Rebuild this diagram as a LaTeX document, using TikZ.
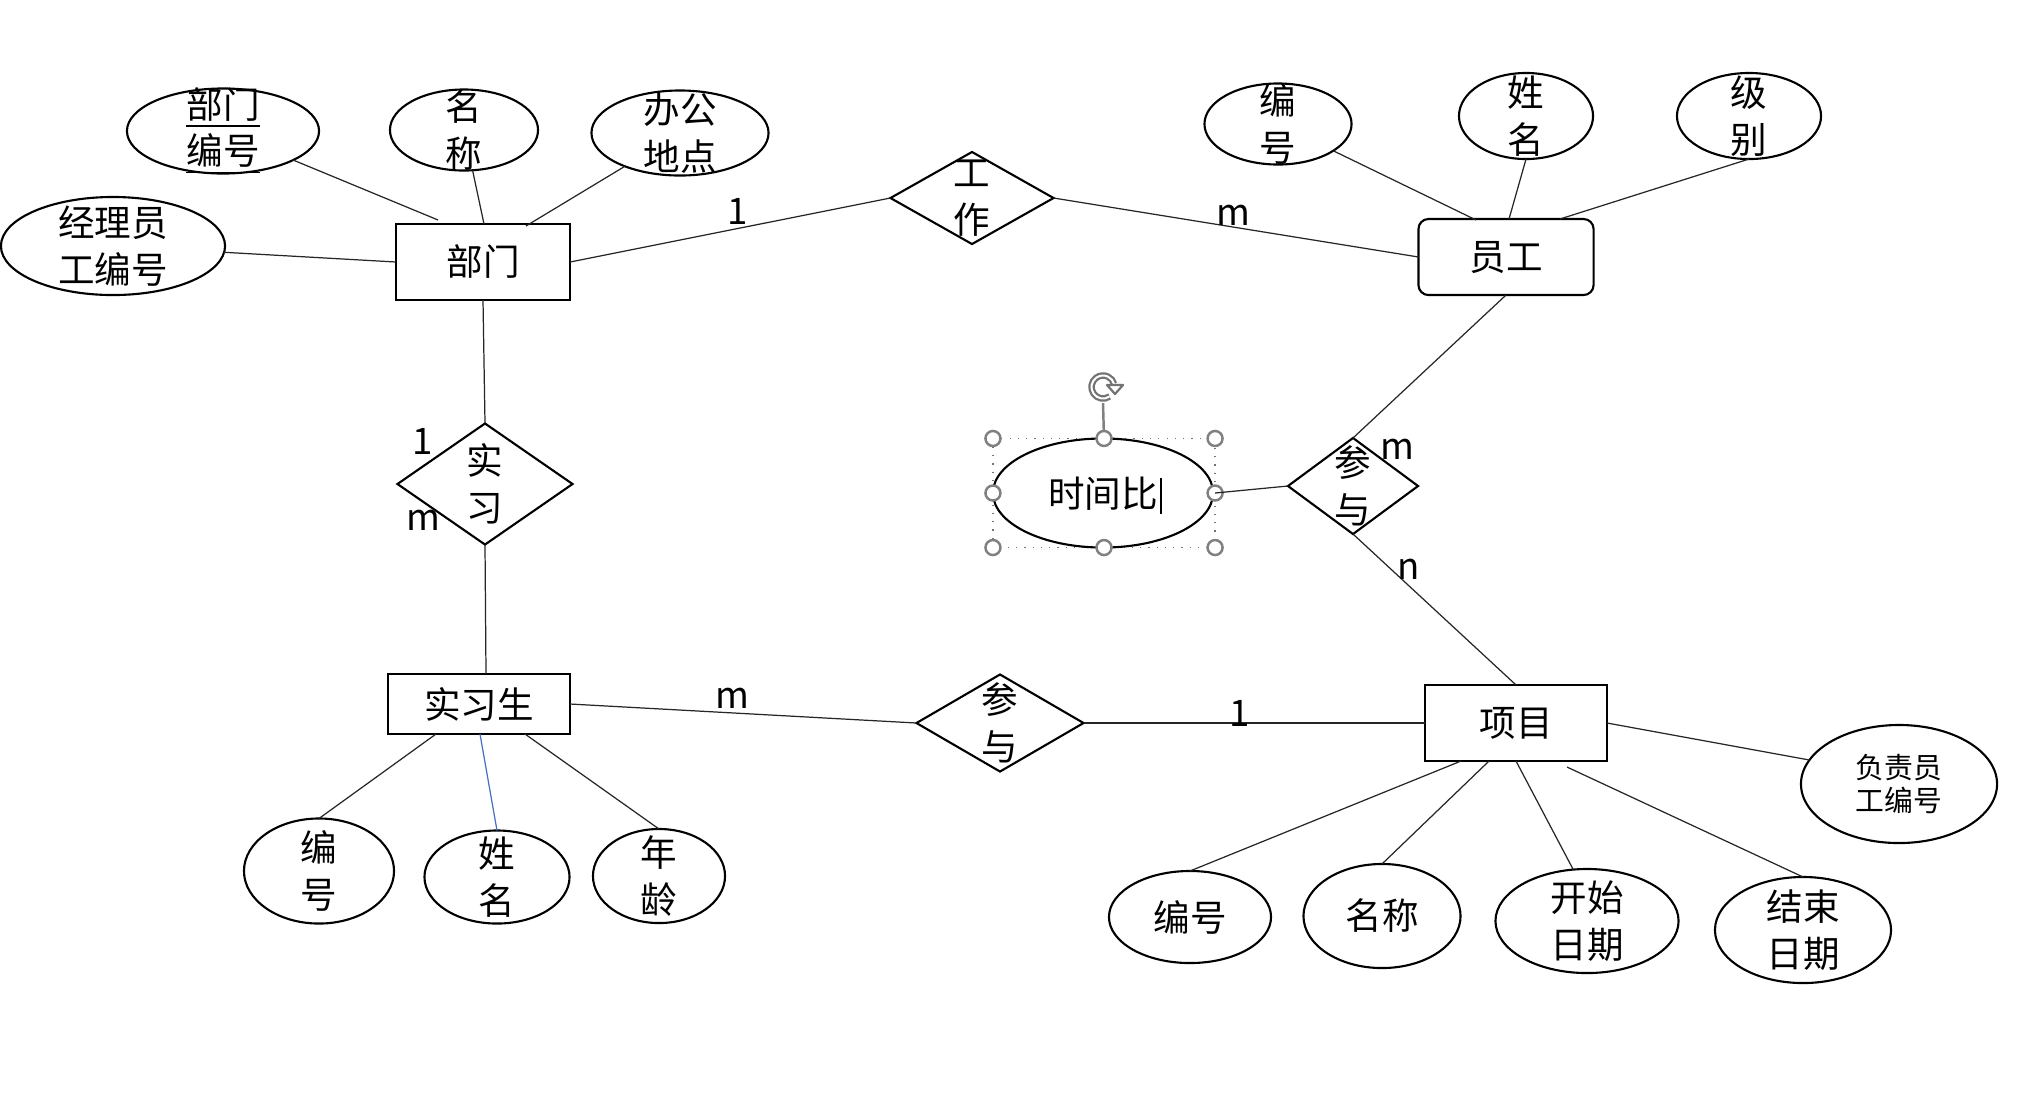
\documentclass[tikz,border=0pt]{standalone}
\usepackage{fontspec}
\newfontfamily\cjk{Noto Sans CJK SC}
\usetikzlibrary{shapes.geometric,calc,arrows.meta}
\begin{document}
\begin{tikzpicture}[x=0.01cm,y=-0.01cm,
  every node/.style={inner sep=0pt, outer sep=0pt},
  lab/.style={font=\cjk\fontsize{10.4}{13.2}\selectfont, align=center, inner sep=0pt},
  smalllab/.style={font=\cjk\fontsize{8.2}{9.6}\selectfont, align=center, inner sep=0pt},
  ent/.style={draw, rectangle, line width=0.6pt, lab},
  attr/.style={draw, ellipse, line width=0.6pt},
  rel/.style={draw, diamond, line width=0.6pt},
  conn/.style={line width=0.35pt, black!85},
  card/.style={font=\cjk\fontsize{10.4}{12}\selectfont, inner sep=0pt},
  handle/.style={circle, draw=black!50, line width=0.7pt, fill=white, minimum size=0.15cm},
  selline/.style={draw=black!55, dotted, line width=0.35pt}
]
\useasboundingbox (0,0) rectangle (2022,1093);

% ---------- entities ----------
\node[ent, minimum width=1.74cm, minimum height=0.76cm] (dept) at (483,262) {部门};
\node[ent, rounded corners=0.1cm, minimum width=1.75cm, minimum height=0.76cm] (emp) at (1506,257) {员工};
\node[ent, minimum width=1.82cm, minimum height=0.60cm] (intern) at (479,704) {实习生};
\node[ent, minimum width=1.82cm, minimum height=0.76cm] (proj) at (1516,723) {项目};

% ---------- relationships ----------
\node[rel, minimum width=1.63cm, minimum height=0.92cm, label={[lab]center:{工\\作}}] (work) at (972,198) {};
\node[rel, minimum width=1.75cm, minimum height=1.21cm, label={[lab]center:{实\\习}}] (shixi) at (485,484) {};
\node[rel, minimum width=1.30cm, minimum height=0.96cm, label={[lab]center:{参\\与}}] (pr) at (1353,486) {};
\node[rel, minimum width=1.67cm, minimum height=0.97cm, label={[lab]center:{参\\与}}] (pb) at (1000,723) {};

% ---------- department attributes ----------
\node[attr, minimum width=1.92cm, minimum height=0.85cm, label={[lab]center:{\underline{部门}\\\underline{编号}}}] (a1) at (223,131) {};
\node[attr, minimum width=1.48cm, minimum height=0.81cm, label={[lab]center:{名\\称}}] (a2) at (464,130) {};
\node[attr, minimum width=1.77cm, minimum height=0.85cm, label={[lab]center:{办公\\地点}}] (a3) at (680,133) {};
\node[attr, minimum width=2.24cm, minimum height=0.98cm, label={[lab]center:{经理员\\工编号}}] (a4) at (113,246) {};

% ---------- employee attributes ----------
\node[attr, minimum width=1.47cm, minimum height=0.81cm, label={[lab]center:{编\\号}}] (e1) at (1278,124) {};
\node[attr, minimum width=1.34cm, minimum height=0.86cm, label={[lab]center:{姓\\名}}] (e2) at (1526,116) {};
\node[attr, minimum width=1.44cm, minimum height=0.86cm, label={[lab]center:{级\\别}}] (e3) at (1749,116) {};

% ---------- intern attributes ----------
\node[attr, minimum width=1.50cm, minimum height=1.05cm, label={[lab]center:{编\\号}}] (s1) at (319,871) {};
\node[attr, minimum width=1.45cm, minimum height=0.93cm, label={[lab]center:{姓\\名}}] (s2) at (497,877) {};
\node[attr, minimum width=1.32cm, minimum height=0.94cm, label={[lab]center:{年\\龄}}] (s3) at (659,876) {};

% ---------- project attributes ----------
\node[attr, minimum width=1.62cm, minimum height=0.92cm, label={[lab]center:{编号}}] (p1) at (1190,917) {};
\node[attr, minimum width=1.57cm, minimum height=1.04cm, label={[lab]center:{名称}}] (p2) at (1382,916) {};
\node[attr, minimum width=1.83cm, minimum height=1.04cm, label={[lab]center:{开始\\日期}}] (p3) at (1587,921) {};
\node[attr, minimum width=1.76cm, minimum height=1.06cm, label={[lab]center:{结束\\日期}}] (p4) at (1803,930) {};
\node[attr, minimum width=1.96cm, minimum height=1.18cm, label={[smalllab]center:{负责员\\工编号}}] (p5) at (1899,784) {};

% ---------- selected attribute 时间比 ----------
\node[rectangle, minimum width=2.22cm, minimum height=1.09cm] (sel) at (1104,493) {};
\draw[selline] (sel.north west) rectangle (sel.south east);
\node[attr, minimum width=2.20cm, minimum height=1.09cm] (tb) at (1103,493) {};
\node[lab] (tbt) at (1103,494) {时间比};
\coordinate (curtop) at (1161,478);
\coordinate (curbot) at (1161,514);
\draw[line width=0.4pt] (curtop) -- (curbot);
\node[circle, minimum size=0.32cm] (rot) at (1103,387) {};
\draw[black!50, line width=0.7pt] (rot.south) -- (sel.north);
\draw[black!55, line width=0.065cm] ($(rot.center)+(-55:0.115cm)$) arc[start angle=-55, end angle=-345, radius=0.115cm];
\draw[white, line width=0.02cm] ($(rot.center)+(-55:0.115cm)$) arc[start angle=-55, end angle=-345, radius=0.115cm];
\draw[black!55, line width=0.022cm, fill=white, line join=round]
  ($(rot.center)+(0.04cm,0.02cm)$) -- ($(rot.center)+(0.20cm,0.02cm)$) -- ($(rot.center)+(0.12cm,-0.07cm)$) -- cycle;
\foreach \a in {north west,north,north east,west,east,south west,south,south east}
  \node[handle] at (sel.\a) {};

% ---------- connectors ----------
\draw[conn] (a1) -- ($(dept.north)+(-45,-4)$);
\draw[conn] (a2) -- ($(dept.north)+(1,0)$);
\draw[conn] (a3) -- ($(dept.north)+(43,2)$);
\draw[conn] (a4) -- (dept.west);
\draw[conn] (dept.east) -- (work.west);
\draw[conn] (work.east) -- (emp.west);
\draw[conn] (e1) -- ($(emp.north)+(-30,1)$);
\draw[conn] (e2.south) -- ($(emp.north)+(3,0)$);
\draw[conn] (e3.south) -- ($(emp.north)+(54,0)$);
\draw[conn] (emp.south) -- (pr.north);
\draw[conn] (pr.south) -- (proj.north);
\draw[conn] (sel.east) -- (pr.west);
\draw[conn] (dept.south) -- (shixi.north);
\draw[conn] (shixi.south) -- ($(intern.north)+(7,0)$);
\draw[conn] (intern.east) -- (pb.west);
\draw[conn] (pb.east) -- (proj.west);
\draw[conn] (s1.north) -- ($(intern.south)+(-43,0)$);
\draw[line width=0.35pt, color={rgb,255:red,68;green,114;blue,196}] (s2.north) -- ($(intern.south)+(1,0)$);
\draw[conn] (s3.north) -- ($(intern.south)+(46,0)$);
\draw[conn] (p1.north) -- ($(proj.south)+(-55,0)$);
\draw[conn] (p2.north) -- ($(proj.south)+(-27,0)$);
\draw[conn] (p3.105) -- (proj.south);
\draw[conn] (p4.north) -- ($(proj.south)+(51,6)$);
\draw[conn] (p5.165) -- (proj.east);

% ---------- cardinalities ----------
\node[card] (c1) at (738,211) {1};
\node[card] (c2) at (1233,215) {m};
\node[card] (c3) at (423,441) {1};
\node[card] (c4) at (423,520) {m};
\node[card] (c5) at (1397,449) {m};
\node[card] (c6) at (1409,569) {n};
\node[card] (c7) at (732,698) {m};
\node[card] (c8) at (1240,713) {1};
\end{tikzpicture}
\end{document}
